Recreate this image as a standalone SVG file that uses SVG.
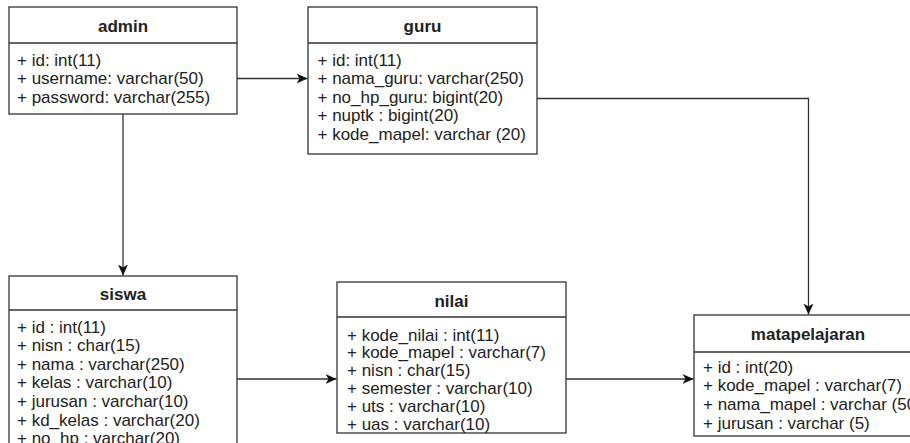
<svg xmlns="http://www.w3.org/2000/svg" width="910" height="443" viewBox="0 0 910 443">
  <style>
    .box { fill: #ffffff; stroke: #333333; stroke-width: 1.3; }
    .sep { stroke: #333333; stroke-width: 1.3; }
    .title { font-family: "Liberation Sans", Arial, sans-serif; font-size: 17px; font-weight: bold; fill: #222222; text-anchor: middle; }
    .attr { font-family: "Liberation Sans", Arial, sans-serif; font-size: 17px; fill: #222222; }
    .edge { fill: none; stroke: #333333; stroke-width: 1.3; marker-end: url(#arrow); }
  </style>
  <defs>
    <marker id="arrow" markerWidth="12" markerHeight="11" refX="11" refY="5.5" orient="auto" markerUnits="userSpaceOnUse">
      <path d="M0,0.5 L11,5.5 L0,10.5 L3,5.5 Z" fill="#111111"/>
    </marker>
  </defs>

  <rect width="910" height="443" fill="#ffffff"/>

  <!-- connectors -->
  <g id="connectors">
    <path class="edge" d="M237,78.5 H307.5"/>
    <path class="edge" d="M123,114 V275.5"/>
    <path class="edge" d="M537,98.5 H808.5 V314.5"/>
    <path class="edge" d="M237,379 H336.5"/>
    <path class="edge" d="M566,379 H693.5"/>
  </g>

  <!-- admin table -->
  <g id="admin">
    <rect class="box" x="9" y="7" width="228" height="107"/>
    <line class="sep" x1="9" y1="43" x2="237" y2="43"/>
    <text class="title" x="123" y="32">admin</text>
    <text class="attr" x="17" y="66">+ id: int(11)</text>
    <text class="attr" x="17" y="84.3">+ username: varchar(50)</text>
    <text class="attr" x="17" y="102.6">+ password: varchar(255)</text>
  </g>

  <!-- guru table -->
  <g id="guru">
    <rect class="box" x="308" y="7" width="229" height="147"/>
    <line class="sep" x1="308" y1="43" x2="537" y2="43"/>
    <text class="title" x="422.5" y="32">guru</text>
    <text class="attr" x="317.5" y="65.5">+ id: int(11)</text>
    <text class="attr" x="317.5" y="84.1">+ nama_guru: varchar(250)</text>
    <text class="attr" x="317.5" y="102.7">+ no_hp_guru: bigint(20)</text>
    <text class="attr" x="317.5" y="121.3">+ nuptk : bigint(20)</text>
    <text class="attr" x="317.5" y="139.9">+ kode_mapel: varchar (20)</text>
  </g>

  <!-- siswa table -->
  <g id="siswa">
    <rect class="box" x="9" y="276" width="228" height="190"/>
    <line class="sep" x1="9" y1="310" x2="237" y2="310"/>
    <text class="title" x="123" y="300">siswa</text>
    <text class="attr" x="17" y="332.5">+ id : int(11)</text>
    <text class="attr" x="17" y="351.1">+ nisn : char(15)</text>
    <text class="attr" x="17" y="369.7">+ nama : varchar(250)</text>
    <text class="attr" x="17" y="388.3">+ kelas : varchar(10)</text>
    <text class="attr" x="17" y="406.9">+ jurusan : varchar(10)</text>
    <text class="attr" x="17" y="425.5">+ kd_kelas : varchar(20)</text>
    <text class="attr" x="17" y="444.1">+ no_hp : varchar(20)</text>
  </g>

  <!-- nilai table -->
  <g id="nilai">
    <rect class="box" x="337" y="282" width="229" height="151"/>
    <line class="sep" x1="337" y1="317" x2="566" y2="317"/>
    <text class="title" x="451.5" y="306.5">nilai</text>
    <text class="attr" x="347" y="340.5">+ kode_nilai : int(11)</text>
    <text class="attr" x="347" y="358.3">+ kode_mapel : varchar(7)</text>
    <text class="attr" x="347" y="376.1">+ nisn : char(15)</text>
    <text class="attr" x="347" y="393.9">+ semester : varchar(10)</text>
    <text class="attr" x="347" y="411.7">+ uts : varchar(10)</text>
    <text class="attr" x="347" y="429.5">+ uas : varchar(10)</text>
  </g>

  <!-- matapelajaran table -->
  <g id="matapelajaran">
    <rect class="box" x="694" y="315" width="228" height="121"/>
    <line class="sep" x1="694" y1="352" x2="922" y2="352"/>
    <text class="title" x="808" y="340">matapelajaran</text>
    <text class="attr" x="703" y="372.5">+ id : int(20)</text>
    <text class="attr" x="703" y="391.2">+ kode_mapel : varchar(7)</text>
    <text class="attr" x="703" y="409.9">+ nama_mapel : varchar (50)</text>
    <text class="attr" x="703" y="428.6">+ jurusan : varchar (5)</text>
  </g>
</svg>
